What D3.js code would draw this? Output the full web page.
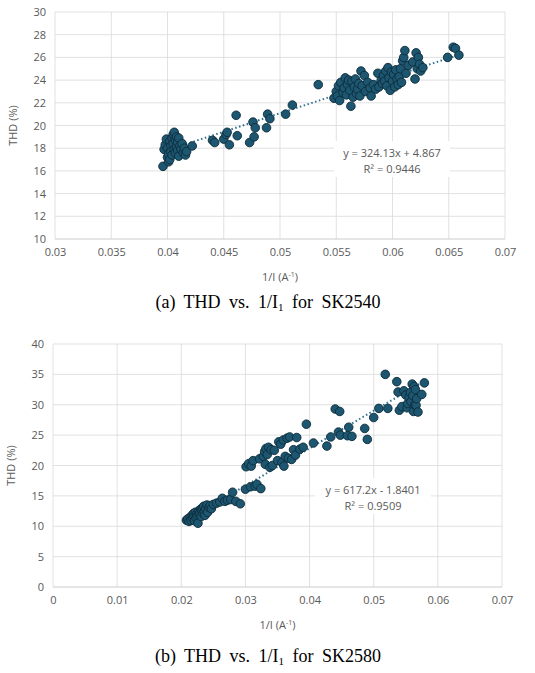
<!DOCTYPE html>
<html><head><meta charset="utf-8">
<script src="https://cdn.jsdelivr.net/npm/d3@7"></script>
<style>body{margin:0;background:#fff}</style>
</head><body>
<svg id="svg" width="535" height="673"></svg>
<script>
// chart (a) SK2540
var pointsA = [[0.0396,16.4],[0.0397,17.9],[0.0398,18.3],[0.0399,18.8],[0.0400,17.2],[0.0400,18.0],[0.0401,16.8],[0.0401,17.5],[0.0402,18.6],[0.0402,17.0],[0.0403,18.2],[0.0403,17.7],[0.0404,18.9],[0.0404,17.4],[0.0405,19.2],[0.0405,18.4],[0.0406,19.4],[0.0406,17.9],[0.0407,18.7],[0.0407,17.6],[0.0408,19.0],[0.0408,18.1],[0.0409,18.5],[0.0409,17.8],[0.0410,18.9],[0.0410,17.3],[0.0411,18.2],[0.0412,17.9],[0.0413,18.4],[0.0414,17.6],[0.0415,18.0],[0.0416,17.4],[0.0417,17.7],[0.0422,18.2],
  [0.0440,18.7],[0.0442,18.5],[0.0450,18.8],[0.0452,19.2],[0.0453,19.4],[0.0455,18.3],[0.0461,20.9],[0.0462,19.1],[0.0473,18.5],[0.0476,20.3],[0.0477,19.0],[0.0478,19.8],[0.0488,19.8],[0.0489,21.0],[0.0491,20.6],[0.0505,21.0],[0.0511,21.8],[0.0534,23.6],
  [0.0548,22.4],[0.0550,23.0],[0.0551,22.6],[0.0552,23.5],[0.0553,22.2],[0.0554,23.8],[0.0556,22.9],[0.0557,23.3],[0.0558,24.2],[0.0559,22.7],[0.0560,23.6],[0.0561,24.0],[0.0562,23.1],[0.0563,21.7],[0.0564,23.9],[0.0565,22.5],[0.0566,23.4],[0.0567,24.1],[0.0568,22.8],[0.0569,23.2],[0.0570,23.7],[0.0571,22.6],[0.0572,24.8],[0.0573,23.5],[0.0575,24.4],[0.0576,23.0],[0.0578,23.8],[0.0580,23.3],[0.0581,22.6],[0.0583,23.6],[0.0585,23.2],[0.0587,24.6],[0.0588,23.4],[0.0590,24.0],[0.0591,23.7],[0.0592,24.4],[0.0593,23.9],[0.0594,24.8],[0.0595,23.5],[0.0596,25.1],[0.0597,24.2],[0.0598,23.1],[0.0599,24.7],[0.0600,23.9],[0.0601,24.5],[0.0602,23.4],[0.0603,24.9],[0.0604,24.1],[0.0605,23.6],[0.0606,24.3],[0.0607,25.0],[0.0608,23.8],[0.0609,25.7],[0.0610,26.0],[0.0611,26.6],[0.0612,24.6],[0.0614,25.3],[0.0618,25.6],[0.0620,24.1],[0.0621,26.4],[0.0622,25.0],[0.0623,26.0],[0.0624,25.4],[0.0625,24.8],[0.0627,25.1],[0.0649,26.0],[0.0654,26.9],[0.0656,26.8],[0.0659,26.2]];
var xTicksA = [0.03,0.035,0.04,0.045,0.05,0.055,0.06,0.065,0.07];
var yTicksA = [10,12,14,16,18,20,22,24,26,28,30];
var fitA = [324.13, 4.867];
var fitTextA = ["y = 324.13x + 4.867", "R\u00b2 = 0.9446"];

// chart (b) SK2580
var pointsB = [[0.0208,11.0],[0.0210,11.2],[0.0212,10.8],[0.0214,11.5],[0.0215,11.0],[0.0217,11.8],[0.0218,11.3],[0.0219,12.1],[0.0220,11.6],[0.0221,10.9],[0.0222,12.3],[0.0223,11.4],[0.0224,12.0],[0.0225,11.7],[0.0226,10.5],[0.0227,12.5],[0.0228,11.9],[0.0229,12.2],[0.0230,12.8],[0.0231,11.6],[0.0232,12.6],[0.0233,13.0],[0.0234,12.1],[0.0235,13.3],[0.0236,12.4],[0.0237,11.8],[0.0238,12.9],[0.0240,13.5],[0.0241,12.3],[0.0243,13.1],[0.0245,13.4],[0.0247,12.9],[0.0250,13.6],[0.0255,13.8],[0.0260,14.0],[0.0264,14.6],[0.0268,14.1],[0.0272,14.3],[0.0277,14.4],[0.0280,15.6],[0.0285,14.1],[0.0292,13.7],
  [0.0300,16.1],[0.0301,19.8],[0.0305,20.3],[0.0308,16.5],[0.0309,19.9],[0.0312,20.8],[0.0315,16.6],[0.0318,16.9],[0.0322,21.1],[0.0324,16.2],[0.0328,21.5],[0.0330,22.3],[0.0331,20.2],[0.0332,22.8],[0.0334,21.8],[0.0336,23.0],[0.0338,19.7],[0.0340,22.6],[0.0342,20.0],[0.0345,22.5],[0.0350,20.8],[0.0352,23.9],[0.0355,23.5],[0.0357,20.5],[0.0359,24.2],[0.0360,19.9],[0.0362,21.5],[0.0365,24.5],[0.0367,21.2],[0.0369,24.7],[0.0372,21.0],[0.0375,22.6],[0.0378,21.7],[0.0380,24.6],[0.0385,22.7],[0.0390,23.0],[0.0395,26.8],[0.0406,23.7],[0.0427,23.2],[0.0433,24.7],[0.0440,29.3],[0.0445,25.5],[0.0447,28.9],[0.0448,25.0],[0.0459,24.9],[0.0461,26.3],[0.0466,24.8],[0.0486,26.1],[0.0490,24.3],[0.0500,27.9],[0.0508,29.4],[0.0518,35.0],[0.0522,29.4],[0.0536,33.8],[0.0538,32.1],[0.0540,29.1],[0.0544,29.7],[0.0547,32.3],[0.0550,31.6],[0.0552,29.5],[0.0553,30.2],[0.0555,31.2],[0.0557,32.0],[0.0558,30.5],[0.0560,33.4],[0.0561,31.5],[0.0562,28.9],[0.0563,33.0],[0.0564,30.0],[0.0565,32.5],[0.0566,29.9],[0.0567,31.0],[0.0569,28.8],[0.0575,31.7],[0.0579,33.6]];
var xTicksB = [0,0.01,0.02,0.03,0.04,0.05,0.06,0.07];
var yTicksB = [0,5,10,15,20,25,30,35,40];
var fitB = [617.2, -1.8401];
var fitTextB = ["y = 617.2x - 1.8401", "R\u00b2 = 0.9509"];

var svg = d3.select('#svg');

function drawChart(o) {
    var g = svg.append('g');
    var x = d3.scaleLinear().domain(d3.extent(o.xTicks)).range([o.left, o.right]);
    var y = d3.scaleLinear().domain(d3.extent(o.yTicks)).range([o.bottom, o.top]);

    // grid
    g.selectAll('.gx').data(o.xTicks).enter().append('line')
        .attr('x1', d => x(d)).attr('x2', d => x(d)).attr('y1', o.top).attr('y2', o.bottom)
        .attr('stroke', '#d9d9d9').attr('stroke-width', 0.8);
    g.selectAll('.gy').data(o.yTicks).enter().append('line')
        .attr('x1', o.left).attr('x2', o.right).attr('y1', d => y(d)).attr('y2', d => y(d))
        .attr('stroke', d => d === o.yTicks[0] ? '#bfbfbf' : '#d9d9d9').attr('stroke-width', 0.8);

    var xAxis = g.append('g').attr('transform', 'translate(0,' + o.bottom + ')')
        .call(d3.axisBottom(x).tickValues(o.xTicks).tickFormat(d3.format('')).tickSize(0).tickPadding(9));
    var yAxis = g.append('g').attr('transform', 'translate(' + o.left + ',0)')
        .call(d3.axisLeft(y).tickValues(o.yTicks).tickFormat(d3.format('')).tickSize(0).tickPadding(9));
    [xAxis, yAxis].forEach(function (a) {
        a.select('.domain').remove();
        a.selectAll('text').attr('fill', '#595959').style('font-family', 'Open Sans, sans-serif').style('font-size', '11px');
    });

    // trendline
    var xs = d3.extent(o.points, d => d[0]);
    g.append('line')
        .attr('x1', x(xs[0])).attr('y1', y(o.fit[0] * xs[0] + o.fit[1]))
        .attr('x2', x(xs[1])).attr('y2', y(o.fit[0] * xs[1] + o.fit[1]))
        .attr('stroke', '#2e6f8e').attr('stroke-width', 2).attr('stroke-dasharray', '1.5,2.5');

    g.selectAll('circle').data(o.points).enter().append('circle')
        .attr('cx', d => x(d[0])).attr('cy', d => y(d[1])).attr('r', 4.3)
        .attr('fill', '#1d5670').attr('stroke', '#0c2b3a').attr('stroke-width', 0.9);

    // equation label
    g.append('rect').attr('x', o.lab[0] - 58).attr('y', o.lab[1] - 16).attr('width', 116).attr('height', 36).attr('fill', '#fff');
    o.fitText.forEach(function (t, i) {
        g.append('text').attr('x', o.lab[0]).attr('y', o.lab[1] + i * 16).attr('text-anchor', 'middle')
            .attr('fill', '#595959').style('font-family', 'Open Sans, sans-serif').style('font-size', '11px').text(t);
    });

    // axis titles
    var xt = g.append('text').attr('x', (o.left + o.right) / 2).attr('y', o.bottom + 42).attr('text-anchor', 'middle')
        .attr('fill', '#595959').style('font-family', 'Open Sans, sans-serif').style('font-size', '11px');
    xt.append('tspan').text('1/I (A');
    xt.append('tspan').attr('dy', -4).style('font-size', '7px').text('-1');
    xt.append('tspan').attr('dy', 4).text(')');
    g.append('text').attr('transform', 'translate(' + (o.left - 38) + ',' + (o.top + o.bottom) / 2 + ') rotate(-90)')
        .attr('text-anchor', 'middle').attr('fill', '#595959')
        .style('font-family', 'Open Sans, sans-serif').style('font-size', '11px').text('THD (%)');

    // caption
    var c = g.append('text').attr('x', 268).attr('y', o.bottom + o.capDy).attr('text-anchor', 'middle')
        .style('font-family', 'Liberation Serif, serif').style('font-size', '18px').style('white-space', 'pre')
        .style('word-spacing', '4px').attr('fill', '#000');
    c.append('tspan').text(o.capPre + ' THD vs. 1/I');
    c.append('tspan').attr('dy', 3).style('font-size', '11px').text('1');
    c.append('tspan').attr('dy', -3).text(' for ' + o.capName);
}

drawChart({points: pointsA, xTicks: xTicksA, yTicks: yTicksA, fit: fitA, fitText: fitTextA,
    left: 55, right: 505, top: 12, bottom: 239, lab: [392, 157], capDy: 69, capPre: '(a)', capName: 'SK2540'});
drawChart({points: pointsB, xTicks: xTicksB, yTicks: yTicksB, fit: fitB, fitText: fitTextB,
    left: 53, right: 502, top: 344, bottom: 587, lab: [373, 494], capDy: 75, capPre: '(b)', capName: 'SK2580'});
</script>
</body></html>
